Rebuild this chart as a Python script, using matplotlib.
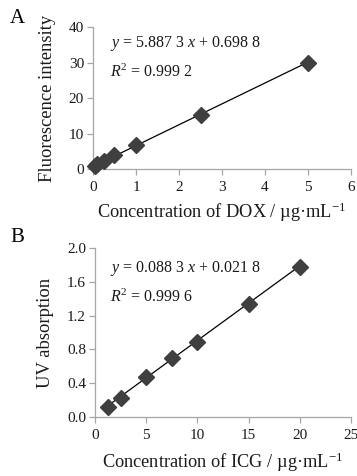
import matplotlib
matplotlib.use("Agg")
import matplotlib.pyplot as plt
import numpy as np

# --- Data ---
dox_conc = [0.05, 0.1, 0.25, 0.5, 1.0, 2.5, 5.0]
dox_fluo = [0.8, 1.3, 2.2, 4.0, 6.8, 15.3, 30.0]
dox_slope, dox_icpt = 5.8873, 0.6988

icg_conc = [1.25, 2.5, 5.0, 7.5, 10.0, 15.0, 20.0]
icg_uv = [0.12, 0.23, 0.47, 0.70, 0.89, 1.34, 1.78]
icg_slope, icg_icpt = 0.0883, 0.0218

plt.rcParams['font.family'] = 'Liberation Serif'
plt.rcParams['mathtext.fontset'] = 'custom'
plt.rcParams['mathtext.rm'] = 'Liberation Serif'
plt.rcParams['mathtext.it'] = 'Liberation Serif:italic'

spine_col = '#a6a6a6'
mark_col = '#3f3f3f'
text_col = '#1a1a1a'

fig = plt.figure(figsize=(3.57, 4.76), dpi=100)
ax_a = fig.add_axes([0.2605, 0.645, 0.7227, 0.298])
ax_b = fig.add_axes([0.266, 0.124, 0.717, 0.355])


def style(ax):
    for s in ['top', 'right']:
        ax.spines[s].set_visible(False)
    for s in ['left', 'bottom']:
        ax.spines[s].set_color(spine_col)
        ax.spines[s].set_linewidth(0.9)
    ax.tick_params(direction='out', length=4, width=0.9, color=spine_col,
                   labelsize=11, labelcolor=text_col, pad=2.5)
    ax.tick_params(axis='x', pad=4.5)


def draw(ax, x, y, slope, icpt):
    xs = np.array([min(x), max(x)])
    ax.plot(xs, slope * xs + icpt, color='black', lw=0.9, zorder=2)
    ax.plot(x, y, ls='none', marker='D', ms=8.5, color=mark_col,
            mec=mark_col, zorder=3, clip_on=False)


# --- Panel A ---
style(ax_a)
draw(ax_a, dox_conc, dox_fluo, dox_slope, dox_icpt)
ax_a.set_xlim(0, 6)
ax_a.set_ylim(0, 40)
ax_a.set_xticks(range(0, 7))
ax_a.set_yticks([0, 10, 20, 30, 40])
ax_a.set_xlabel(r'Concentration of DOX / µg·mL$^{\mathrm{-1}}$', fontsize=13.2,
                labelpad=5, color=text_col)
ax_a.set_ylabel('Fluorescence intensity', fontsize=13.4, labelpad=9, color=text_col)
ax_a.text(0.066, 0.887, r'$y$ = 5.887 3 $x$ + 0.698 8', transform=ax_a.transAxes,
          fontsize=11.5, va='center', color=text_col)
ax_a.text(0.066, 0.683, r'$R^{\mathrm{2}}$ = 0.999 2', transform=ax_a.transAxes,
          fontsize=11.5, va='center', color=text_col)
fig.text(0.028, 0.962, 'A', fontsize=15, va='center')

# --- Panel B ---
style(ax_b)
draw(ax_b, icg_conc, icg_uv, icg_slope, icg_icpt)
ax_b.set_xlim(0, 25)
ax_b.set_ylim(0, 2.0)
ax_b.set_xticks(range(0, 26, 5))
ax_b.set_yticks([0.0, 0.4, 0.8, 1.2, 1.6, 2.0])
ax_b.set_yticklabels(['0.0', '0.4', '0.8', '1.2', '1.6', '2.0'])
ax_b.set_xlabel(r'Concentration of ICG / µg·mL$^{\mathrm{-1}}$', fontsize=13.2,
                labelpad=6, color=text_col)
ax_b.set_ylabel('UV absorption', fontsize=13.4, labelpad=9, color=text_col)
ax_b.text(0.059, 0.877, r'$y$ = 0.088 3 $x$ + 0.021 8', transform=ax_b.transAxes,
          fontsize=11.5, va='center', color=text_col)
ax_b.text(0.059, 0.708, r'$R^{\mathrm{2}}$ = 0.999 6', transform=ax_b.transAxes,
          fontsize=11.5, va='center', color=text_col)
fig.text(0.028, 0.500, 'B', fontsize=15, va='center')

fig.savefig('out.png', dpi=100)
